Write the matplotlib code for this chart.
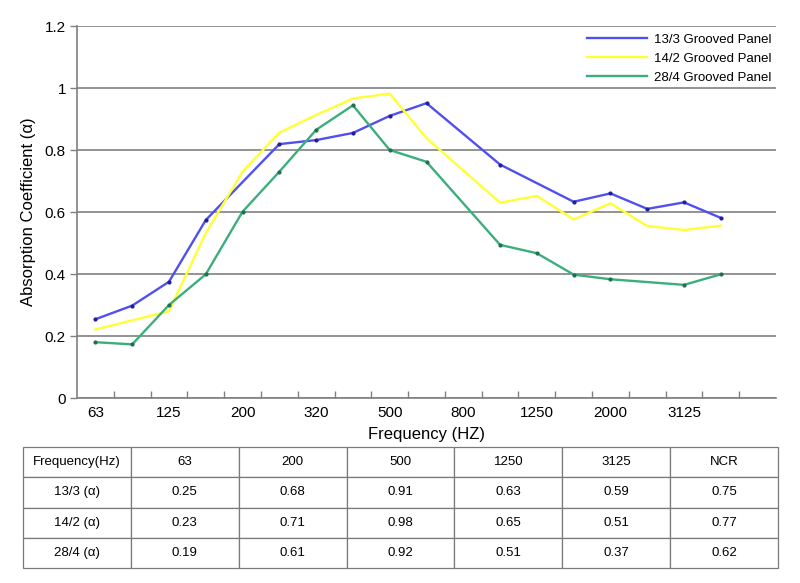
import matplotlib
matplotlib.use("Agg")
import matplotlib.pyplot as plt
import numpy as np

plt.rcParams['font.family'] = ['Liberation Sans', 'DejaVu Sans']

# ---- data ----
tick_labels = ["63", "", "125", "", "200", "", "320", "", "500", "", "800", "",
               "1250", "", "2000", "", "3125", "", ""]
series_names = ["13/3 Grooved Panel", "14/2 Grooved Panel", "28/4 Grooved Panel"]
panel_13_3 = [0.254, 0.298, 0.375, 0.574, None, 0.819, 0.832, 0.855, 0.910, 0.951,
              None, 0.753, None, 0.633, 0.660, 0.610, 0.631, 0.581, None]
panel_14_2 = [0.221, None, 0.280, 0.532, 0.730, 0.856, 0.913, 0.966, 0.982, 0.838,
              None, 0.630, 0.652, 0.576, 0.628, 0.555, 0.542, 0.556, None]
panel_28_4 = [0.180, 0.173, 0.300, 0.399, 0.601, 0.730, 0.865, 0.944, 0.800, 0.762,
              None, 0.494, 0.467, 0.398, 0.383, None, 0.365, 0.399, None]
y_ticks = [0, 0.2, 0.4, 0.6, 0.8, 1.0, 1.2]
y_tick_labels = ["0", "0.2", "0.4", "0.6", "0.8", "1", "1.2"]

table_header = ["Frequency(Hz)", "63", "200", "500", "1250", "3125", "NCR"]
table_rows = [
    ["13/3 (α)", "0.25", "0.68", "0.91", "0.63", "0.59", "0.75"],
    ["14/2 (α)", "0.23", "0.71", "0.98", "0.65", "0.51", "0.77"],
    ["28/4 (α)", "0.19", "0.61", "0.92", "0.51", "0.37", "0.62"],
]

colors = ["#5050f0", "#ffff38", "#3cae7c"]
dot_colors = ["#20209a", "#e0e020", "#1f7050"]

W, H = 800, 583
fig = plt.figure(figsize=(W / 100, H / 100), dpi=100)
ax = fig.add_axes([77 / W, 1 - 398 / H, (776 - 77) / W, (398 - 26) / H])

for name, vals, c, dc in zip(series_names, [panel_13_3, panel_14_2, panel_28_4], colors, dot_colors):
    xs = [i for i, v in enumerate(vals) if v is not None]
    ys = [v for v in vals if v is not None]
    ax.plot(xs, ys, color=c, lw=1.7, label=name, zorder=3)
    if name != series_names[1]:
        ax.plot(xs, ys, ls="none", marker="o", ms=2, color=dc, zorder=4)

ax.set_xlim(-0.5, len(tick_labels) - 0.5)
ax.set_ylim(0, 1.2)
ax.set_yticks(y_ticks)
ax.set_yticklabels(y_tick_labels, fontsize=11)
ax.set_xticks(range(len(tick_labels)))
ax.set_xticklabels(tick_labels, fontsize=11)
ax.set_xticks(np.arange(len(tick_labels) - 1) + 0.5, minor=True)
ax.tick_params(axis="x", which="major", length=0, pad=6)
ax.tick_params(axis="x", which="minor", direction="in", length=5, color="#808080", width=1)
ax.tick_params(axis="y", length=5, color="#808080", width=1, pad=3)
ax.grid(axis="y", color="#808080", lw=1.2, zorder=1)
for s in ["top", "right"]:
    ax.spines[s].set_visible(False)
for s in ["left", "bottom"]:
    ax.spines[s].set_color("#808080")
    ax.spines[s].set_linewidth(1.2)
ax.set_axisbelow(True)

ax.set_xlabel("Frequency (HZ)", fontsize=12, labelpad=5)
ax.set_ylabel("Absorption Coefficient (α)", fontsize=12, labelpad=6)

ax.legend(loc="upper right", bbox_to_anchor=(1.0, 0.992), frameon=False, fontsize=9.5,
          handlelength=4.6, handletextpad=0.5, labelspacing=0.52, borderaxespad=0.0,
          borderpad=0.35)

# ---- table ----
tax = fig.add_axes([23 / W, 15 / H, 755 / W, 121 / H])
tax.axis("off")
tbl = tax.table(cellText=[table_header] + table_rows, cellLoc="center",
                bbox=[0, 0, 1, 1])
tbl.auto_set_font_size(False)
for (r, c), cell in tbl.get_celld().items():
    cell.set_edgecolor("#7a7a7a")
    cell.set_linewidth(0.9)
    cell.get_text().set_fontsize(9.5)

fig.savefig("out.png", dpi=100)
